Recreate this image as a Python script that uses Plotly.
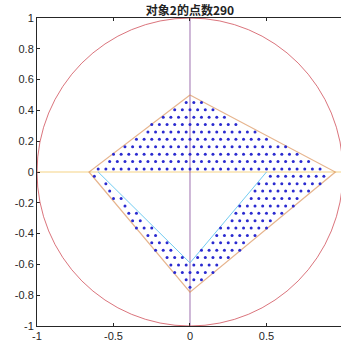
import plotly.graph_objects as go

# ---- data ----
title_text = "<b>对象2的点数290</b>"

quad_x = [0.0, 0.95, 0.0, -0.66, 0.0]
quad_y = [0.5, 0.0, -0.78, 0.0, 0.5]

vee_x = [-0.60, 0.0, 0.50]
vee_y = [0.0, -0.59, 0.0]

hline_x = [-1, 1]
hline_y = [0, 0]
vline_x = [0, 0]
vline_y = [-1, 1]

circle_box = [-1, -1, 1, 1]

x_ticks = [-1, -0.5, 0, 0.5, 1]
x_tick_text = ["-1", "-0.5", "0", "0.5", "1"]
y_ticks = [-1, -0.8, -0.6, -0.4, -0.2, 0, 0.2, 0.4, 0.6, 0.8, 1]
y_tick_text = ["-1", "-0.8", "-0.6", "-0.4", "-0.2", "0", "0.2", "0.4", "0.6", "0.8", "1"]

dot_rows_y = [0.452, 0.404, 0.356, 0.308, 0.26, 0.212, 0.164, 0.116, 0.068, 0.02,
              -0.028, -0.076, -0.124, -0.172, -0.22, -0.268, -0.316, -0.364,
              -0.412, -0.46, -0.508, -0.556, -0.604, -0.652, -0.70, -0.748]
dot_rows_x = [
    [-0.025, 0.025, 0.075],
    [-0.10, -0.05, 0.00, 0.05, 0.10, 0.15],
    [-0.175, -0.125, -0.075, -0.025, 0.025, 0.075, 0.125, 0.175, 0.225],
    [-0.25, -0.20, -0.15, -0.10, -0.05, 0.00, 0.05, 0.10, 0.15, 0.20, 0.25, 0.30],
    [-0.275, -0.225, -0.175, -0.125, -0.075, -0.025, 0.025, 0.075, 0.125, 0.175,
     0.225, 0.275, 0.325, 0.375, 0.425],
    [-0.35, -0.30, -0.25, -0.20, -0.15, -0.10, -0.05, 0.00, 0.05, 0.10, 0.15, 0.20,
     0.25, 0.30, 0.35, 0.40, 0.45, 0.50],
    [-0.425, -0.375, -0.325, -0.275, -0.225, -0.175, -0.125, -0.075, -0.025, 0.025,
     0.075, 0.125, 0.175, 0.225, 0.275, 0.325, 0.375, 0.425, 0.475, 0.525, 0.575, 0.625],
    [-0.50, -0.45, -0.40, -0.35, -0.30, -0.25, -0.20, -0.15, -0.10, -0.05, 0.00, 0.05,
     0.10, 0.15, 0.20, 0.25, 0.30, 0.35, 0.40, 0.45, 0.50, 0.55, 0.60, 0.65, 0.70],
    [-0.525, -0.475, -0.425, -0.375, -0.325, -0.275, -0.225, -0.175, -0.125, -0.075,
     -0.025, 0.025, 0.075, 0.125, 0.175, 0.225, 0.275, 0.325, 0.375, 0.425, 0.475,
     0.525, 0.575, 0.625, 0.675, 0.725, 0.775],
    [-0.60, -0.55, -0.50, -0.45, -0.40, -0.35, -0.30, -0.25, -0.20, -0.15, -0.10, -0.05,
     0.00, 0.05, 0.10, 0.15, 0.20, 0.25, 0.30, 0.35, 0.40, 0.45, 0.50, 0.55, 0.60, 0.65,
     0.70, 0.75, 0.80, 0.85],
    [-0.625, 0.525, 0.575, 0.625, 0.675, 0.725, 0.775, 0.825, 0.875],
    [-0.55, 0.45, 0.50, 0.55, 0.60, 0.65, 0.70, 0.75, 0.80, 0.85],
    [-0.525, 0.425, 0.475, 0.525, 0.575, 0.625, 0.675, 0.725, 0.775],
    [-0.50, -0.45, 0.40, 0.45, 0.50, 0.55, 0.60, 0.65, 0.70],
    [-0.425, 0.325, 0.375, 0.425, 0.475, 0.525, 0.575, 0.625, 0.675],
    [-0.40, -0.35, 0.30, 0.35, 0.40, 0.45, 0.50, 0.55, 0.60],
    [-0.375, -0.325, 0.275, 0.325, 0.375, 0.425, 0.475, 0.525],
    [-0.35, -0.30, -0.25, 0.20, 0.25, 0.30, 0.35, 0.40, 0.45, 0.50],
    [-0.275, -0.225, 0.175, 0.225, 0.275, 0.325, 0.375, 0.425],
    [-0.25, -0.20, -0.15, 0.15, 0.20, 0.25, 0.30, 0.35],
    [-0.225, -0.175, -0.125, 0.075, 0.125, 0.175, 0.225, 0.275, 0.325],
    [-0.15, -0.10, -0.05, 0.05, 0.10, 0.15, 0.20, 0.25],
    [-0.125, -0.075, -0.025, 0.025, 0.075, 0.125, 0.175],
    [-0.10, -0.05, 0.00, 0.05, 0.10, 0.15],
    [-0.025, 0.025, 0.075],
    [0.00],
]

# ---- build ----
dots_x, dots_y = [], []
for ry, rx in zip(dot_rows_y, dot_rows_x):
    for xv in rx:
        dots_x.append(xv)
        dots_y.append(ry)

AX = "#262626"
fig = go.Figure()

fig.add_shape(type="circle", xref="x", yref="y",
              x0=circle_box[0], y0=circle_box[1], x1=circle_box[2], y1=circle_box[3],
              line=dict(color="rgba(205,70,80,0.75)", width=1), layer="above")

fig.add_trace(go.Scatter(x=hline_x, y=hline_y, mode="lines",
                         line=dict(color="rgba(237,177,32,0.55)", width=1.2)))
fig.add_trace(go.Scatter(x=vline_x, y=vline_y, mode="lines",
                         line=dict(color="rgba(140,85,160,0.7)", width=1.2)))
fig.add_trace(go.Scatter(x=quad_x, y=quad_y, mode="lines",
                         line=dict(color="rgba(217,140,80,0.65)", width=1.2)))
fig.add_trace(go.Scatter(x=vee_x, y=vee_y, mode="lines",
                         line=dict(color="rgba(77,190,238,0.8)", width=1)))
fig.add_trace(go.Scatter(x=dots_x, y=dots_y, mode="markers",
                         marker=dict(color="#2a2ad0", size=3, line=dict(width=0))))

fig.update_layout(
    width=341, height=350,
    margin=dict(l=37, r=0, t=18, b=24),
    paper_bgcolor="white", plot_bgcolor="white",
    showlegend=False,
    font=dict(family="Liberation Sans, Arial, sans-serif", size=11, color=AX),
    title=dict(text=title_text, x=190 / 341, xanchor="center", xref="container",
               y=1 - 10.5 / 350, yanchor="middle", yref="container",
               pad=dict(t=0, b=0, l=0, r=0),
               font=dict(family="Noto Sans CJK SC", size=12, color="#222")),
)
fig.update_xaxes(range=[-1, 0.987], tickvals=x_ticks, ticktext=x_tick_text,
                 showgrid=False, zeroline=False, showline=True, linecolor=AX,
                 linewidth=1, mirror="ticks", ticks="inside", ticklen=3,
                 tickcolor=AX, tickfont=dict(size=11, color=AX))
fig.update_yaxes(range=[-1, 1], tickvals=y_ticks, ticktext=y_tick_text,
                 showgrid=False, zeroline=False, showline=True, linecolor=AX,
                 linewidth=1, mirror=False, ticks="inside", ticklen=3,
                 tickcolor=AX, tickfont=dict(size=11, color=AX))

fig.write_html("out.html", config={"displayModeBar": False},
               post_script="document.body.style.margin='0';document.body.style.overflow='hidden';")
